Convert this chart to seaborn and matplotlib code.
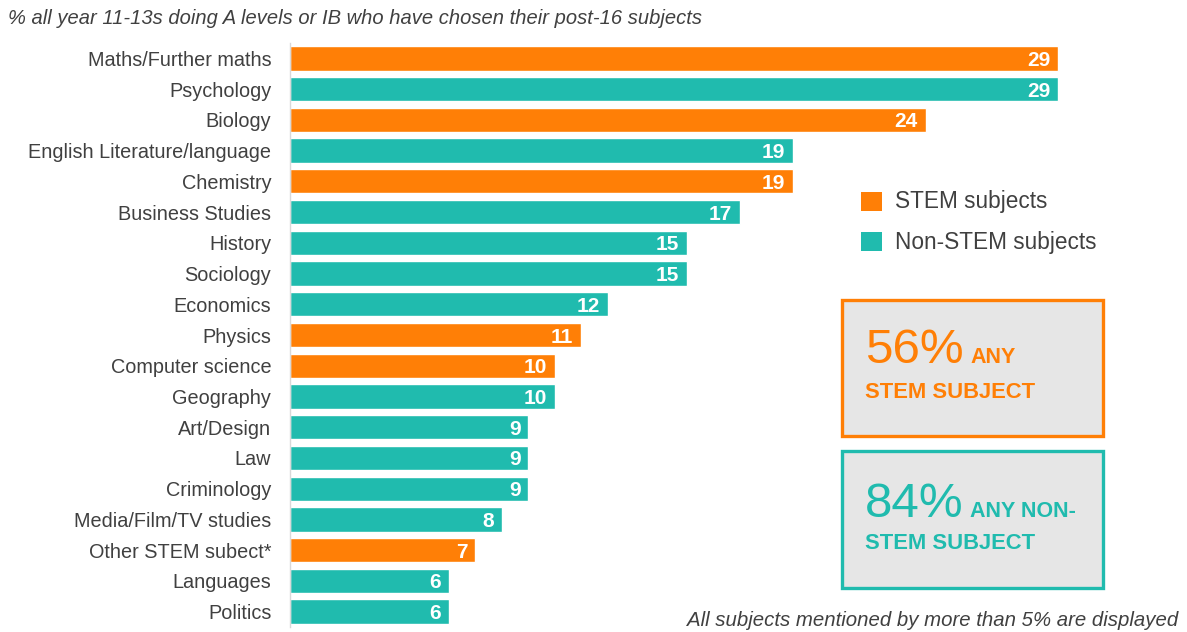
import matplotlib
matplotlib.use("Agg")
import matplotlib.pyplot as plt
import seaborn as sns
import pandas as pd
from matplotlib.patches import Rectangle

subjects = ["Maths/Further maths", "Psychology", "Biology", "English Literature/language",
            "Chemistry", "Business Studies", "History", "Sociology", "Economics", "Physics",
            "Computer science", "Geography", "Art/Design", "Law", "Criminology",
            "Media/Film/TV studies", "Other STEM subect*", "Languages", "Politics"]
values = [29, 29, 24, 19, 19, 17, 15, 15, 12, 11, 10, 10, 9, 9, 9, 8, 7, 6, 6]
groups = ["STEM subjects", "Non-STEM subjects", "STEM subjects", "Non-STEM subjects",
          "STEM subjects", "Non-STEM subjects", "Non-STEM subjects", "Non-STEM subjects",
          "Non-STEM subjects", "STEM subjects", "STEM subjects", "Non-STEM subjects",
          "Non-STEM subjects", "Non-STEM subjects", "Non-STEM subjects", "Non-STEM subjects",
          "STEM subjects", "Non-STEM subjects", "Non-STEM subjects"]
title_text = "% all year 11-13s doing A levels or IB who have chosen their post-16 subjects"
footnote = "All subjects mentioned by more than 5% are displayed"
stem_pct = "56%"
nonstem_pct = "84%"

ORANGE = "#FF7F06"
TEAL = "#20BBAE"
GRAY_TEXT = "#404040"

sns.set_style("white")
plt.rcParams["font.family"] = ["Liberation Sans", "DejaVu Sans"]

df = pd.DataFrame({"subject": subjects, "value": values, "group": groups})

fig = plt.figure(figsize=(11.87, 6.32), dpi=100)
ax = fig.add_axes([290 / 1187, 1 - 627 / 632, (1164 - 290) / 1187, (627 - 43) / 632])

sns.barplot(data=df, y="subject", x="value", hue="group", dodge=False,
            palette={"STEM subjects": ORANGE, "Non-STEM subjects": TEAL},
            width=0.79, orient="h", ax=ax, legend=False, saturation=1)

ax.set_xlim(0, 33)
ax.set_ylim(18.5, -0.5)
ax.set_xlabel("")
ax.set_ylabel("")
ax.set_xticks([])
for s in ["top", "right", "bottom"]:
    ax.spines[s].set_visible(False)
ax.spines["left"].set_color("#D9D9D9")
ax.spines["left"].set_linewidth(1)

ax.set_yticks(range(len(subjects)))
ax.set_yticklabels(subjects, fontsize=14.3, color=GRAY_TEXT)
ax.tick_params(axis="y", length=0, pad=13.5)
# boundary ticks
ax.set_yticks([i - 0.5 for i in range(len(subjects) + 1)], minor=True)
ax.tick_params(axis="y", which="minor", length=5, color="#D9D9D9", width=1)

for i, v in enumerate(values):
    ax.text(v - 0.3, i, str(v), ha="right", va="center_baseline", color="white",
            fontsize=15, fontweight="bold")

fig.text(8 / 1187, 1 - 19 / 632, title_text, fontsize=14.5, style="italic",
         color=GRAY_TEXT, ha="left", va="center")
fig.text(1178 / 1187, 1 - 620 / 632, footnote, fontsize=14.7, style="italic",
         color=GRAY_TEXT, ha="right", va="center")

# legend
W, H = 1187, 632
for (y0, col, lab) in [(192, ORANGE, "STEM subjects"), (232, TEAL, "Non-STEM subjects")]:
    fig.patches.append(Rectangle((861 / W, 1 - (y0 + 19) / H), 21 / W, 19 / H,
                                 transform=fig.transFigure, facecolor=col, edgecolor="none"))
    fig.text(895 / W, 1 - (y0 + 10) / H, lab, fontsize=16.3, color=GRAY_TEXT,
             ha="left", va="center")

# summary boxes
for (top, bot, col, pct, l1, l2, b1, b2) in [
        (300, 436, ORANGE, stem_pct, "ANY", "STEM SUBJECT", 363, 398),
        (451, 588, TEAL, nonstem_pct, "ANY NON-", "STEM SUBJECT", 517, 549)]:
    fig.patches.append(Rectangle((842 / W, 1 - bot / H), (1103 - 842) / W, (bot - top) / H,
                                 transform=fig.transFigure, facecolor="#E6E6E6",
                                 edgecolor=col, linewidth=2.4))
    fig.text(865 / W, 1 - b1 / H, pct, fontsize=35.5, color=col, ha="left", va="baseline")
    fig.text(970 / W, 1 - b1 / H, l1, fontsize=15.5, color=col, ha="left",
             va="baseline", fontweight="bold")
    fig.text(865 / W, 1 - b2 / H, l2, fontsize=15.8, color=col, ha="left",
             va="baseline", fontweight="bold")

fig.savefig("out.png", dpi=100)
